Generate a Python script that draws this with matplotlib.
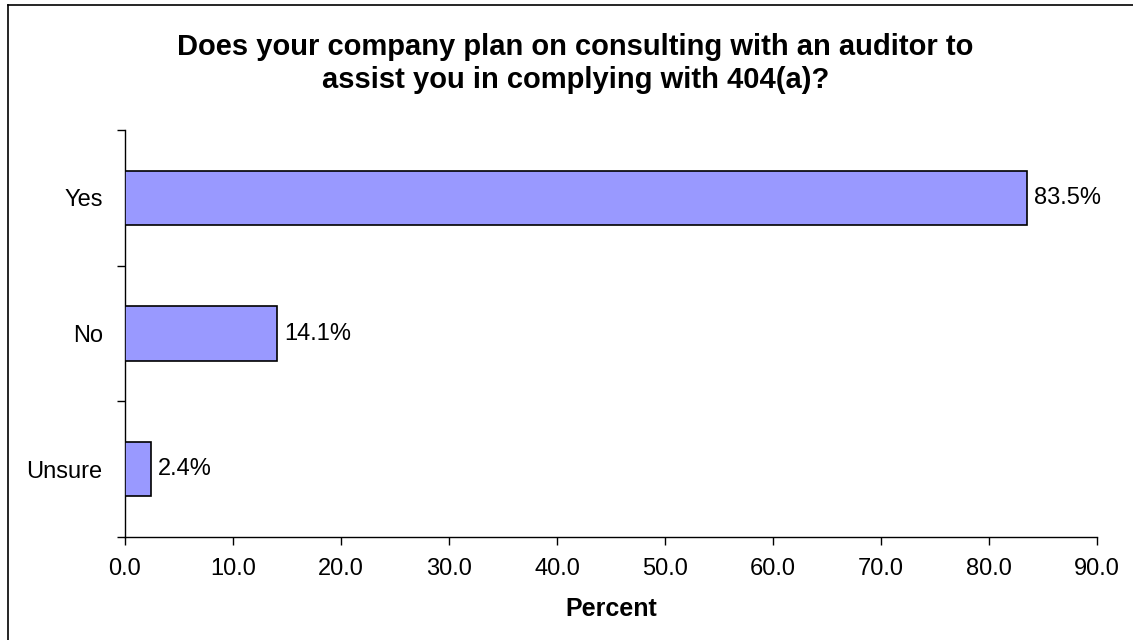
import matplotlib
matplotlib.use('Agg')
import matplotlib.pyplot as plt
from matplotlib.lines import Line2D

categories = ['Yes', 'No', 'Unsure']
percent = [83.5, 14.1, 2.4]
x_ticks = [0, 10, 20, 30, 40, 50, 60, 70, 80, 90]

title = 'Does your company plan on consulting with an auditor to\nassist you in complying with 404(a)?'

plt.rc('font', family='Liberation Sans')

fig = plt.figure(figsize=(11.33, 6.4), dpi=100)
fig.patch.set_facecolor('white')
ax = fig.add_axes([0.1103, 0.1609, 0.8579, 0.6360])

ypos = list(range(len(categories)))
bars = ax.barh(ypos, percent, height=0.4, color='#9999FF', edgecolor='black',
               linewidth=1.2, zorder=3)
for bar, val in zip(bars, percent):
    ax.annotate(f'{val:.1f}%', (bar.get_width(), bar.get_y() + bar.get_height() / 2),
                xytext=(5, 0), textcoords='offset points', ha='left', va='center',
                fontsize=17)

ax.set_xlim(0, 90)
ax.set_ylim(len(categories) - 0.5, -0.5)
ax.set_xticks(x_ticks)
ax.set_xticklabels([f'{v:.1f}' for v in x_ticks], fontsize=17)

# tick marks between the categories, labels at the category centres
ax.set_yticks([i - 0.5 for i in range(len(categories) + 1)])
ax.set_yticklabels([])
ax.set_yticks(ypos, minor=True)
ax.set_yticklabels(categories, minor=True, fontsize=17)
ax.tick_params(axis='y', which='minor', length=0, pad=16)
ax.tick_params(axis='y', which='major', length=6, width=1, direction='out')
ax.tick_params(axis='x', length=6, width=1, direction='out', pad=9)

ax.spines['top'].set_visible(False)
ax.spines['right'].set_visible(False)
ax.spines['left'].set_linewidth(1)
ax.spines['bottom'].set_linewidth(1)

ax.set_xlabel('Percent', fontsize=18, fontweight='bold', labelpad=12)
fig.text(0.508, 0.948, title, ha='center', va='top', fontsize=21,
         fontweight='bold', linespacing=1.22)

# frame lines along the left and top edges
fig.add_artist(Line2D([8 / 1133, 8 / 1133], [0, 1 - 5 / 640], transform=fig.transFigure,
                      color='black', linewidth=1.2))
fig.add_artist(Line2D([8 / 1133, 1], [1 - 5 / 640, 1 - 5 / 640], transform=fig.transFigure,
                      color='black', linewidth=1.2))

fig.savefig('out.png', dpi=100)
